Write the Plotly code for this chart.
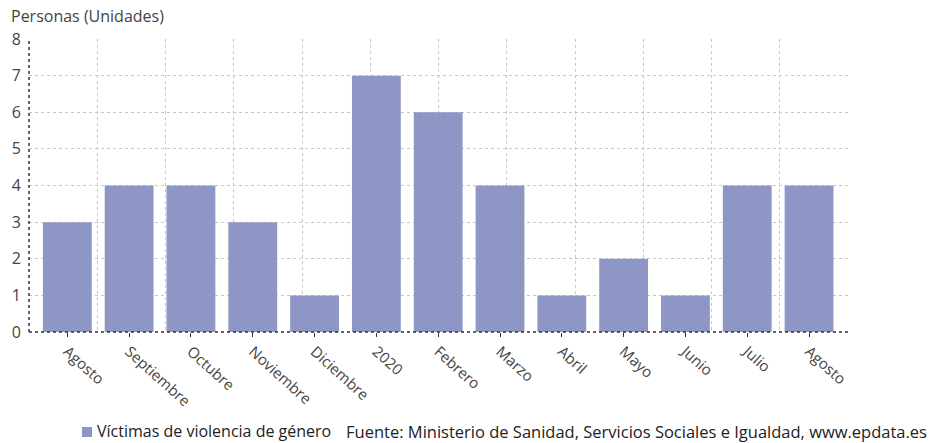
import plotly.graph_objects as go

categories = ["Agosto", "Septiembre", "Octubre", "Noviembre", "Diciembre", "2020",
              "Febrero", "Marzo", "Abril", "Mayo", "Junio", "Julio", "Agosto "]
values = [3, 4, 4, 3, 1, 7, 6, 4, 1, 2, 1, 4, 4]
series_name = "Víctimas de violencia de género"
source_text = "Fuente: Ministerio de Sanidad, Servicios Sociales e Igualdad, www.epdata.es"
y_title = "Personas (Unidades)"

FONT = "Open Sans"
BAR = "#8e96c5"
GRID = "#c8c8c8"

fig = go.Figure()
# invisible trace to activate the vertical grid axis
fig.add_trace(go.Scatter(x=[0, 12], y=[0, 0], xaxis="x2", mode="markers",
                         marker=dict(opacity=0), showlegend=False, hoverinfo="skip"))
fig.add_trace(go.Bar(x=categories, y=values, name=series_name, marker_color=BAR,
                     marker_line_width=0, width=0.79, showlegend=False))

fig.update_layout(
    width=933, height=443,
    margin=dict(l=29, r=85, t=39, b=111, autoexpand=False),
    paper_bgcolor="white", plot_bgcolor="white",
    font=dict(family=FONT, size=14, color="#444"),
    showlegend=False,
    xaxis=dict(range=[-0.62, 12.63], showgrid=False, tickangle=42, automargin=False,
               ticks="outside", ticklen=4, tickcolor="#333",
               showline=False, zeroline=False,
               tickfont=dict(size=15, color="#444")),
    yaxis=dict(range=[0, 8], dtick=1, showgrid=True, gridcolor=GRID, griddash="dot",
               gridwidth=1, zeroline=False, showline=False, automargin=False,
               ticks="", ticklabelstandoff=7, tickfont=dict(size=16, color="#444")),
    xaxis2=dict(overlaying="x", range=[0, 12], dtick=1, showgrid=True, gridcolor=GRID,
                griddash="dot", showticklabels=False, ticks="", zeroline=False,
                showline=False, layer="below traces"),
    bargap=0.21,
)

# dotted dark axis lines
fig.add_shape(type="line", xref="paper", yref="paper", x0=0, x1=0, y0=0, y1=1,
              line=dict(color="#333", width=1.5, dash="dot"))
fig.add_shape(type="line", xref="paper", yref="paper", x0=0, x1=1, y0=0, y1=0,
              line=dict(color="#333", width=1.5, dash="dot"))

# legend: swatch + label (paper coords: plot spans x 29..848 px, y 332..39 px)
px_x = lambda p: (p - 29) / 819
px_y = lambda p: (332 - p) / 293
fig.add_shape(type="rect", xref="paper", yref="paper",
              x0=px_x(82), x1=px_x(92), y0=px_y(437), y1=px_y(427),
              line=dict(width=0), fillcolor=BAR)
fig.add_annotation(text=series_name, xref="paper", yref="paper", x=px_x(95), y=px_y(431),
                   xanchor="left", yanchor="middle", showarrow=False,
                   font=dict(family=FONT, size=16, color="#222"))

fig.add_annotation(text=y_title, xref="paper", yref="paper", x=-0.024, y=1.0,
                   yshift=10, xanchor="left", yanchor="bottom", showarrow=False,
                   font=dict(family=FONT, size=16, color="#444"))
fig.add_annotation(text=source_text, xref="paper", yref="paper", x=px_x(929), y=px_y(431),
                   xanchor="right", yanchor="middle", showarrow=False,
                   font=dict(family=FONT, size=16.5, color="#222"))

fig.write_html("out.html")
